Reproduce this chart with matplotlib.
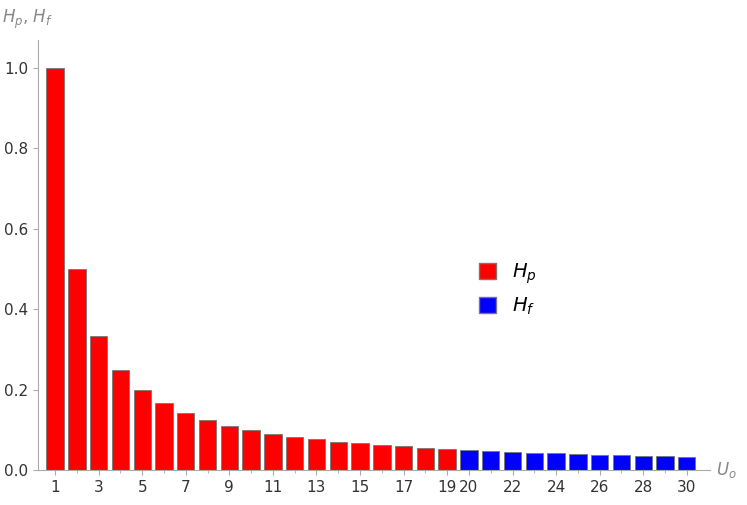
import matplotlib.pyplot as plt
from matplotlib.patches import Patch

n = list(range(1, 31))
# values (they follow 1/n)
h = [1.000, 0.500, 0.333, 0.250, 0.200, 0.167, 0.143, 0.125, 0.111, 0.100,
     0.091, 0.083, 0.077, 0.071, 0.067, 0.062, 0.059, 0.056, 0.053, 0.050,
     0.048, 0.045, 0.043, 0.042, 0.040, 0.038, 0.037, 0.036, 0.034, 0.033]
split = 19
xticks = [1, 3, 5, 7, 9, 11, 13, 15, 17, 19, 20, 22, 24, 26, 28, 30]
yticks = [0.0, 0.2, 0.4, 0.6, 0.8, 1.0]

fig = plt.figure(figsize=(7.47, 5.05), dpi=100)
ax = fig.add_axes([0.051, 0.069, 0.899, 0.852])

cols = ['#ff0000' if i <= split else '#0000ff' for i in n]
ax.bar(n, h, width=0.8, color=cols, edgecolor='#777777', linewidth=0.6)

ax.set_xlim(0.22, 31.05)
ax.set_ylim(0, 1.07)
ax.set_xticks(xticks)
ax.set_xticks(n, minor=True)
ax.set_yticks(yticks)
ax.set_yticklabels(['%.1f' % v for v in yticks])
for s in ['top', 'right']:
    ax.spines[s].set_visible(False)
for s in ['left', 'bottom']:
    ax.spines[s].set_color('#aaaaaa')
ax.tick_params(colors='#aaaaaa', labelcolor='#333333', labelsize=11)
ax.tick_params(which='minor', colors='#aaaaaa', length=2)

fig.text(0.003, 0.955, '$H_p$, $H_f$', color='#888888', fontsize=12)
fig.text(0.958, 0.06, '$U_o$', color='#888888', fontsize=12)

ax.legend(handles=[Patch(facecolor='#ff0000', edgecolor='#777777', label='$H_p$'),
                   Patch(facecolor='#0000ff', edgecolor='#777777', label='$H_f$')],
          loc='center left', bbox_to_anchor=(0.63, 0.42), frameon=False,
          fontsize=14, handlelength=0.9, handleheight=0.9)

fig.savefig('out.png')
